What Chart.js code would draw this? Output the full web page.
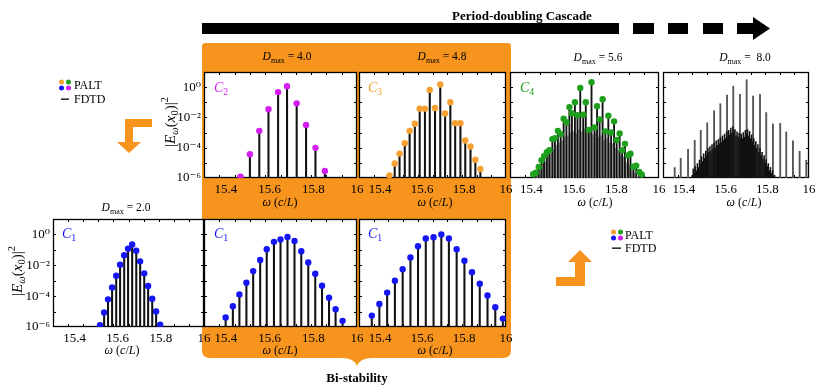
<!DOCTYPE html>
<html>
<head>
<meta charset="utf-8">
<script src="https://cdn.jsdelivr.net/npm/chart.js@4.4.1/dist/chart.umd.min.js"></script>
<style>
  body { margin: 0; width: 831px; height: 388px; overflow: hidden; position: relative; background: #fff;
         font-family: 'Liberation Serif', 'DejaVu Serif', serif; color: #000; }
  .t { position: absolute; white-space: nowrap; transform: translate(-50%, -50%); line-height: 1; z-index: 5; }
  .l { position: absolute; white-space: nowrap; transform: translateY(-50%); line-height: 1; font-size: 12px; z-index: 5; }
  .b { font-weight: bold; font-size: 13px; }
  .ttl { font-size: 11.5px; }
  .xt { font-size: 12px; }
  .lab { position: absolute; font-size: 14px; line-height: 1; z-index: 5; }
  .lab i { font-style: italic; }
  .yl { font-size: 15px; transform: translate(-50%, -50%) rotate(-90deg); }
  sub { font-size: 70%; vertical-align: -0.3em; line-height: 0; }
  sup { font-size: 70%; vertical-align: 0.6em; line-height: 0; }
</style>
</head>
<body>
<canvas id="bg" width="831" height="388" style="position:absolute;left:0;top:0;"></canvas>

<div class="t b" style="left:522px;top:15px;">Period-doubling Cascade</div>
<div class="t b" style="left:357px;top:377px;">Bi-stability</div>

<div class="t ttl" style="left:287px;top:57px;"><i>D</i><sub>max</sub> = 4.0</div>
<div class="t ttl" style="left:442px;top:57px;"><i>D</i><sub>max</sub> = 4.8</div>
<div class="t ttl" style="left:598px;top:58px;"><i>D</i><sub>max</sub> = 5.6</div>
<div class="t ttl" style="left:745px;top:58px;"><i>D</i><sub>max</sub> = &nbsp;8.0</div>
<div class="t ttl" style="left:126px;top:208px;"><i>D</i><sub>max</sub> = 2.0</div>

<div class="t xt" style="left:280px;top:202px;"><i>ω</i> (<i>c</i>/<i>L</i>)</div>
<div class="t xt" style="left:435px;top:202px;"><i>ω</i> (<i>c</i>/<i>L</i>)</div>
<div class="t xt" style="left:595px;top:202px;"><i>ω</i> (<i>c</i>/<i>L</i>)</div>
<div class="t xt" style="left:744px;top:202px;"><i>ω</i> (<i>c</i>/<i>L</i>)</div>
<div class="t xt" style="left:122px;top:350px;"><i>ω</i> (<i>c</i>/<i>L</i>)</div>
<div class="t xt" style="left:280px;top:350px;"><i>ω</i> (<i>c</i>/<i>L</i>)</div>
<div class="t xt" style="left:435px;top:350px;"><i>ω</i> (<i>c</i>/<i>L</i>)</div>

<div class="t yl" style="left:170px;top:122px;">|<i>E</i><sub><i>ω</i></sub>(<i>x</i><sub>0</sub>)|<sup>2</sup></div>
<div class="t yl" style="left:17px;top:271px;">|<i>E</i><sub><i>ω</i></sub>(<i>x</i><sub>0</sub>)|<sup>2</sup></div>

<div class="lab" style="left:214px;top:81px;color:#d21ff0;"><i>C</i><sub>2</sub></div>
<div class="lab" style="left:368px;top:81px;color:#f5a030;"><i>C</i><sub>3</sub></div>
<div class="lab" style="left:520px;top:81px;color:#1ea01e;"><i>C</i><sub>4</sub></div>
<div class="lab" style="left:62px;top:227px;color:#1515f5;"><i>C</i><sub>1</sub></div>
<div class="lab" style="left:214px;top:227px;color:#1515f5;"><i>C</i><sub>1</sub></div>
<div class="lab" style="left:368px;top:227px;color:#1515f5;"><i>C</i><sub>1</sub></div>

<div class="l" style="left:74px;top:85px;">PALT</div>
<div class="l" style="left:74px;top:99px;">FDTD</div>
<div class="l" style="left:625px;top:235px;">PALT</div>
<div class="l" style="left:625px;top:248px;">FDTD</div>

<script>
// axis ticks
const xTicks = [15.4, 15.6, 15.8, 16.0];
const xTickLabels = ['15.4', '15.6', '15.8', '16'];
const yTicks = [1, 1e-2, 1e-4, 1e-6];
const yTickLabels = ['10⁰', '10⁻²', '10⁻⁴', '10⁻⁶'];

// D_max = 2.0, C1
const d20Freq = [15.518, 15.537, 15.555, 15.574, 15.593, 15.611, 15.630, 15.648, 15.667, 15.686, 15.704, 15.723, 15.741, 15.760, 15.778, 15.797];
const d20Pow = [1.3e-6, 8.7e-6, 6.2e-5, 3.7e-4, 2.1e-3, 1.1e-2, 4.5e-2, 0.12, 0.22, 0.089, 0.018, 3.0e-3, 4.5e-4, 6.8e-5, 1.0e-5, 1.4e-6];

// D_max = 4.0, C2 (upper) and C1 (lower)
const d40c2Freq = [15.467, 15.510, 15.553, 15.595, 15.639, 15.680, 15.724, 15.767, 15.810, 15.853];
const d40c2Pow = [1.2e-6, 3.7e-5, 1.3e-3, 0.035, 0.47, 1.15, 0.085, 3.2e-3, 9.8e-5, 2.9e-6];
const d40c1Freq = [15.399, 15.432, 15.462, 15.494, 15.525, 15.557, 15.587, 15.620, 15.650, 15.682, 15.714, 15.745, 15.777, 15.809, 15.840, 15.872, 15.902, 15.934];
const d40c1Pow = [4.1e-6, 2.2e-5, 1.3e-4, 7.4e-4, 4.2e-3, 0.022, 0.11, 0.33, 0.47, 0.69, 0.38, 0.081, 0.015, 2.8e-3, 4.8e-4, 7.9e-5, 1.4e-5, 2.5e-6];

// D_max = 4.8, C3 (upper) and C1 (lower)
const d48c3Freq = [15.445, 15.470, 15.493, 15.518, 15.541, 15.566, 15.589, 15.614, 15.637, 15.662, 15.687, 15.710, 15.735, 15.758, 15.783, 15.806, 15.831, 15.854, 15.878];
const d48c3Pow = [1.5e-6, 9.1e-6, 4.1e-5, 2.0e-4, 1.3e-3, 3.8e-3, 0.038, 0.038, 0.66, 0.042, 1.5, 0.018, 0.10, 4.2e-3, 4.2e-3, 3.0e-4, 1.2e-4, 1.6e-5, 3.9e-6];
const d48c1Freq = [15.361, 15.397, 15.434, 15.471, 15.508, 15.545, 15.581, 15.618, 15.655, 15.692, 15.728, 15.765, 15.802, 15.838, 15.875, 15.912, 15.949, 15.985];
const d48c1Pow = [5.5e-6, 3.1e-5, 1.7e-4, 1.0e-3, 5.6e-3, 0.032, 0.17, 0.54, 0.65, 1.0, 0.54, 0.11, 0.020, 3.5e-3, 6.3e-4, 1.1e-4, 1.9e-5, 3.5e-6];

// D_max = 5.6, C4 and the weaker FDTD lines between
const d56c4Freq = [15.409, 15.421, 15.435, 15.448, 15.460, 15.473, 15.485, 15.499, 15.511, 15.525,
                   15.538, 15.552, 15.565, 15.579, 15.591, 15.605, 15.617, 15.630, 15.644, 15.656,
                   15.670, 15.683, 15.697, 15.709, 15.721, 15.735, 15.748, 15.762, 15.775, 15.789,
                   15.801, 15.815, 15.827, 15.840, 15.854, 15.866, 15.880, 15.893, 15.907, 15.919];
const d56c4Pow = [1.8e-6, 2.2e-6, 5.4e-6, 1.5e-5, 2.8e-5, 5.1e-5, 6.9e-5, 3.7e-4, 4.2e-4, 1.3e-3,
                  7.9e-4, 8.3e-3, 4.8e-3, 0.048, 0.019, 0.10, 0.014, 0.89, 0.015, 0.10,
                  1.5e-3, 2.1, 2.2e-3, 0.055, 7.4e-3, 0.16, 1.2e-3, 0.013, 1.0e-3, 5.5e-3,
                  3.2e-4, 8.7e-4, 6.9e-5, 1.8e-4, 3.1e-5, 4.0e-5, 5.6e-6, 6.6e-6, 2.5e-6, 1.7e-6];
const d56SideFreq = [15.415, 15.428, 15.441, 15.454, 15.467, 15.479, 15.492, 15.505, 15.518, 15.531,
                     15.545, 15.558, 15.572, 15.585, 15.598, 15.611, 15.624, 15.637, 15.650, 15.663,
                     15.676, 15.690, 15.703, 15.715, 15.728, 15.742, 15.755, 15.768, 15.782, 15.795,
                     15.808, 15.821, 15.834, 15.847, 15.860, 15.873, 15.886, 15.900];
const d56SidePow = [1.3e-6, 2e-6, 4e-6, 8e-6, 1.2e-5, 2.5e-5, 4e-5, 8e-5, 1.5e-4, 2e-4,
                    3e-4, 5e-4, 6e-4, 9e-4, 1.2e-3, 8e-4, 1.6e-3, 1.1e-3, 1.8e-3, 9e-4,
                    1.3e-3, 7e-4, 1e-3, 5e-4, 6e-4, 3e-4, 4e-4, 2e-4, 1.8e-4, 9e-5,
                    7e-5, 3e-5, 2.5e-5, 1e-5, 7e-6, 3e-6, 2e-6, 1.2e-6];

// D_max = 8.0, FDTD only: main peaks and the dense noisy band
const d80PeakFreq = [15.356, 15.385, 15.420, 15.452, 15.481, 15.512, 15.545, 15.575, 15.607, 15.637, 15.669,
                     15.701, 15.732, 15.765, 15.795, 15.827, 15.862, 15.891, 15.923, 15.955, 15.987];
const d80PeakPow = [4.9e-6, 2.0e-5, 7.9e-5, 3.1e-4, 1.4e-3, 4.4e-3, 0.028, 0.081, 0.30, 1.15, 0.33,
                    3.1, 0.26, 0.33, 0.021, 3.7e-3, 4.1e-3, 1.1e-3, 2.8e-4, 5.9e-5, 1.5e-5];
const d80NoiseFreq = [15.440, 15.445, 15.450, 15.455, 15.460, 15.465, 15.470, 15.475, 15.480, 15.485,
                      15.490, 15.495, 15.500, 15.505, 15.510, 15.515, 15.520, 15.525, 15.530, 15.535,
                      15.540, 15.545, 15.550, 15.555, 15.560, 15.565, 15.570, 15.575, 15.580, 15.585,
                      15.590, 15.595, 15.600, 15.605, 15.610, 15.615, 15.620, 15.625, 15.630, 15.635,
                      15.640, 15.645, 15.650, 15.655, 15.660, 15.665, 15.670, 15.675, 15.680, 15.685,
                      15.690, 15.695, 15.700, 15.705, 15.710, 15.715, 15.720, 15.725, 15.730, 15.735,
                      15.740, 15.745, 15.750, 15.755, 15.760, 15.765, 15.770, 15.775, 15.780, 15.785,
                      15.790, 15.795, 15.800, 15.805, 15.810, 15.815, 15.820, 15.825, 15.830, 15.835];
const d80NoisePow = [1.5e-6, 4e-6, 2e-6, 6e-6, 3e-6, 9e-6, 5e-6, 1.5e-5, 8e-6, 2.5e-5,
                     1.2e-5, 4e-5, 2e-5, 6e-5, 3e-5, 9e-5, 5e-5, 1.2e-4, 6e-5, 1.6e-4,
                     8e-5, 2e-4, 1e-4, 2.8e-4, 1.4e-4, 3.5e-4, 1.8e-4, 4.5e-4, 2.2e-4, 6e-4,
                     3e-4, 8e-4, 4e-4, 1.1e-3, 5e-4, 1.4e-3, 7e-4, 2e-3, 9e-4, 2.5e-3,
                     1.2e-3, 1.6e-3, 6e-4, 1.1e-3, 5e-4, 9e-4, 4e-4, 8e-4, 4e-4, 1e-3,
                     5e-4, 1.4e-3, 7e-4, 1.6e-3, 6e-4, 1.2e-3, 4e-4, 7e-4, 2.5e-4, 4e-4,
                     1.5e-4, 2.5e-4, 9e-5, 1.6e-4, 5e-5, 9e-5, 3e-5, 5e-5, 1.8e-5, 3e-5,
                     1e-5, 1.6e-5, 6e-6, 9e-6, 3e-6, 5e-6, 2e-6, 3e-6, 1.2e-6, 1.5e-6];

const BLUE = '#1515f5', MAGENTA = '#d21ff0', ORANGE = '#f5a030', GREEN = '#1ea01e';
const FONT = "'Liberation Serif', 'DejaVu Serif', serif";

// ---------- background drawing: bi-stability box, arrows, legend marks ----------
const bg = document.getElementById('bg').getContext('2d');
bg.fillStyle = '#f7941d';
bg.beginPath();
bg.moveTo(205, 43);
bg.lineTo(508, 43);
bg.quadraticCurveTo(511, 43, 511, 46);
bg.lineTo(511, 350);
bg.quadraticCurveTo(511, 358, 503, 358);
bg.lineTo(372, 358);
bg.quadraticCurveTo(360, 358, 357, 366);
bg.quadraticCurveTo(354, 358, 342, 358);
bg.lineTo(210, 358);
bg.quadraticCurveTo(202, 358, 202, 350);
bg.lineTo(202, 46);
bg.quadraticCurveTo(202, 43, 205, 43);
bg.closePath();
bg.fill();

// orange bent arrows
bg.fillRect(125, 119, 27, 8);
bg.fillRect(125, 119, 8, 24);
bg.beginPath(); bg.moveTo(117, 142); bg.lineTo(141, 142); bg.lineTo(129, 153); bg.closePath(); bg.fill();
bg.fillRect(556, 277, 29, 9);
bg.fillRect(575, 261, 10, 25);
bg.beginPath(); bg.moveTo(568, 262); bg.lineTo(592, 262); bg.lineTo(580, 250); bg.closePath(); bg.fill();

// black cascade arrow
bg.fillStyle = '#000';
bg.fillRect(202, 23, 417, 11);
[[633, 21], [668, 20], [703, 20]].forEach(d => bg.fillRect(d[0], 23, d[1], 11));
bg.fillRect(737, 23, 17, 11);
bg.beginPath(); bg.moveTo(753, 17); bg.lineTo(770, 28.5); bg.lineTo(753, 40); bg.closePath(); bg.fill();

// legend marks
function legendMarks(x, y) {
  [[0, 0, ORANGE], [7, 0, GREEN], [0, 6, BLUE], [7, 6, MAGENTA]].forEach(m => {
    bg.fillStyle = m[2];
    bg.beginPath(); bg.arc(x + m[0], y + m[1], 2.5, 0, Math.PI * 2); bg.fill();
  });
}
legendMarks(61.5, 82);
legendMarks(613.5, 232);
bg.fillStyle = '#000';
bg.fillRect(61, 98.5, 8, 1.3);
bg.fillRect(612, 247.5, 9, 1.3);

// ---------- chart panels ----------
const ML = 46, MR = 14, MT = 4, MB = 34;
const pts = (f, p) => f.map((x, i) => ({ x: x, y: p[i] }));

const framePlugin = {
  id: 'frame',
  beforeDraw(chart) {
    const { ctx, chartArea: a } = chart;
    ctx.save();
    ctx.fillStyle = '#fff';
    ctx.fillRect(a.left, a.top, a.right - a.left, a.bottom - a.top);
    ctx.restore();
  },
  beforeDatasetsDraw(chart) {
    const { ctx, chartArea: a, scales } = chart;
    ctx.save();
    ctx.strokeStyle = '#000';
    ctx.lineWidth = 1;
    ctx.beginPath();
    for (let k = 1; k < 10; k++) {
      const px = Math.round(a.left + (a.right - a.left) * k / 10) + 0.5;
      ctx.moveTo(px, a.top); ctx.lineTo(px, a.top + 3);
      ctx.moveTo(px, a.bottom); ctx.lineTo(px, a.bottom - 3);
    }
    for (let e = -5; e <= 0; e++) {
      const py = Math.round(scales.y.getPixelForValue(Math.pow(10, e))) + 0.5;
      ctx.moveTo(a.left, py); ctx.lineTo(a.left + 3, py);
      ctx.moveTo(a.right, py); ctx.lineTo(a.right - 3, py);
    }
    ctx.stroke();
    ctx.lineWidth = 1.3;
    ctx.strokeRect(a.left + 0.5, a.top + 0.5, a.right - a.left - 1, a.bottom - a.top - 1);
    ctx.restore();
  }
};

function stems(data, color, width, order) {
  return { type: 'bar', data: data, backgroundColor: color, barThickness: width, grouped: false,
           base: 1e-6, clip: 0, order: order };
}
function dots(data, color) {
  return { type: 'scatter', data: data, backgroundColor: color, borderWidth: 0, pointRadius: 3.2, order: 0 };
}

function panel(box, showY, datasets) {
  const cv = document.createElement('canvas');
  cv.width = box.w + ML + MR;
  cv.height = box.h + MT + MB;
  cv.style.cssText = 'position:absolute;left:' + (box.x - ML) + 'px;top:' + (box.y - MT) + 'px;';
  document.body.appendChild(cv);
  new Chart(cv, {
    type: 'scatter',
    data: { datasets: datasets },
    options: {
      responsive: false,
      animation: false,
      events: [],
      layout: { padding: { left: 0, right: MR, top: MT, bottom: 0 } },
      plugins: { legend: { display: false }, tooltip: { enabled: false } },
      scales: {
        x: {
          type: 'linear', min: 15.3, max: 16.0, offset: false,
          grid: { display: false, drawTicks: false }, border: { display: false },
          afterBuildTicks: s => { s.ticks = xTicks.map(v => ({ value: v })); },
          afterFit: s => { s.height = MB; s.paddingLeft = 0; s.paddingRight = 0; },
          ticks: { color: '#000', font: { family: FONT, size: 13 }, padding: 4, maxRotation: 0, autoSkip: false,
                   callback: v => xTickLabels[xTicks.indexOf(v)] }
        },
        y: {
          type: 'logarithmic', min: 1e-6, max: 10,
          grid: { display: false, drawTicks: false }, border: { display: false },
          afterBuildTicks: s => { s.ticks = yTicks.map(v => ({ value: v })); },
          afterFit: s => { s.width = ML; s.paddingTop = 0; s.paddingBottom = 0; },
          ticks: { display: showY, color: '#000', font: { family: FONT, size: 13 }, padding: 3,
                   callback: v => yTickLabels[yTicks.indexOf(v)] }
        }
      }
    },
    plugins: [framePlugin]
  });
}

// top row
panel({ x: 204, y: 72, w: 153, h: 106 }, true, [
  dots(pts(d40c2Freq, d40c2Pow), MAGENTA),
  stems(pts(d40c2Freq, d40c2Pow), '#111', 1.4, 1)
]);
panel({ x: 359, y: 72, w: 147, h: 106 }, false, [
  dots(pts(d48c3Freq, d48c3Pow), ORANGE),
  stems(pts(d48c3Freq, d48c3Pow), '#111', 1.4, 1)
]);
panel({ x: 510, y: 72, w: 149, h: 106 }, false, [
  dots(pts(d56c4Freq, d56c4Pow), GREEN),
  stems(pts(d56c4Freq, d56c4Pow), '#111', 1.2, 1),
  stems(pts(d56SideFreq, d56SidePow), '#9a9a9a', 1, 2)
]);
panel({ x: 663, y: 72, w: 146, h: 106 }, false, [
  stems(pts(d80NoiseFreq, d80NoisePow), '#111', 0.9, 1),
  stems(pts(d80PeakFreq, d80PeakPow), '#555', 1.2, 2)
]);

// bottom row
panel({ x: 53, y: 219, w: 151, h: 108 }, true, [
  dots(pts(d20Freq, d20Pow), BLUE),
  stems(pts(d20Freq, d20Pow), '#111', 1.4, 1)
]);
panel({ x: 204, y: 219, w: 153, h: 108 }, false, [
  dots(pts(d40c1Freq, d40c1Pow), BLUE),
  stems(pts(d40c1Freq, d40c1Pow), '#111', 1.4, 1)
]);
panel({ x: 359, y: 219, w: 147, h: 108 }, false, [
  dots(pts(d48c1Freq, d48c1Pow), BLUE),
  stems(pts(d48c1Freq, d48c1Pow), '#111', 1.4, 1)
]);
</script>
</body>
</html>
